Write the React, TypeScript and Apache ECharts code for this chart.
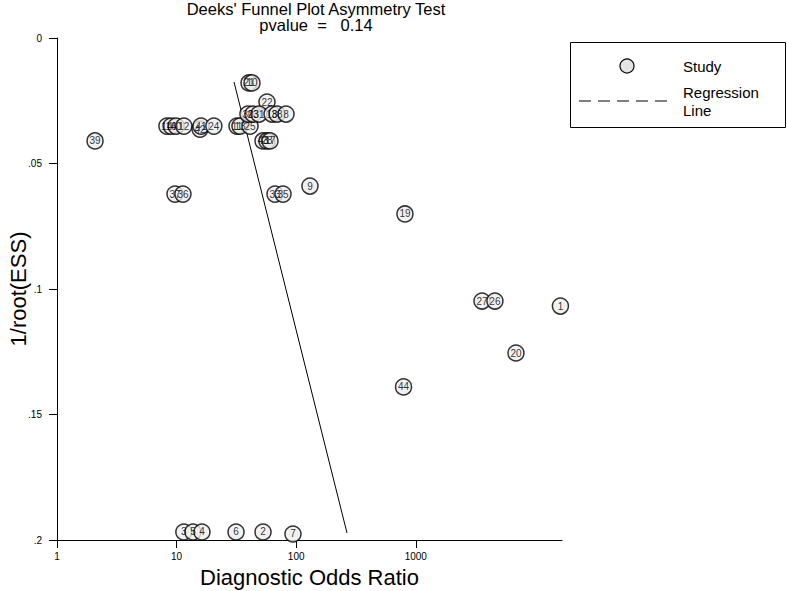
import React, { useEffect, useRef } from "react";
import * as echarts from "echarts";

// Study labels, diagnostic odds ratio (x, log scale), 1/root(ESS) (y)
const studyLabels = [
  "39", "14", "16", "40", "12", "42", "41", "24",
  "11", "13", "25",
  "21", "10", "22",
  "30", "23", "31", "18", "38", "8",
  "43", "28", "17",
  "37", "36", "33", "35", "9",
  "19", "27", "26", "1", "20", "44",
  "3", "5", "4", "6", "2", "7",
];
const oddsRatios = [
  2.08, 8.3, 9.0, 9.9, 11.5, 15.7, 16.0, 20.5,
  32.0, 33.9, 41.1,
  40.3, 42.7, 57.0,
  39.5, 43.5, 48.9, 62.8, 69.1, 82.2,
  52.8, 57.0, 60.4,
  9.7, 11.3, 66.5, 77.6, 130.4,
  812, 3580, 4590, 16200, 6880, 790,
  11.5, 13.7, 16.3, 31.4, 52.8, 94.0,
];
const invRootESS = [
  0.041, 0.0351, 0.0351, 0.0351, 0.0351, 0.0363, 0.0351, 0.0351,
  0.0351, 0.0351, 0.0351,
  0.0179, 0.0179, 0.0255,
  0.0303, 0.0303, 0.0303, 0.0303, 0.0303, 0.0303,
  0.041, 0.041, 0.041,
  0.0622, 0.0622, 0.0622, 0.0622, 0.059,
  0.0701, 0.1048, 0.1048, 0.1068, 0.1255, 0.139,
  0.1968, 0.1968, 0.1968, 0.1968, 0.1968, 0.1976,
];
// Regression line end points
const regressionX = [30.2, 266];
const regressionY = [0.0175, 0.1972];
// Axis ticks
const xTickValues = [1, 10, 100, 1000];
const xMaxOdds = 16700;
const yTickLabels = ["0", ".05", ".1", ".15", ".2"];

const FONT = "'Liberation Sans', Arial, Helvetica, sans-serif";

export default function App() {
  const ref = useRef<HTMLDivElement>(null);
  useEffect(() => {
    if (!ref.current) return;
    const chart = echarts.init(ref.current, null, { renderer: "svg" });
    const lg = (v: number) => Math.log10(v);
    const studyData = studyLabels.map((l, i) => ({
      name: l,
      value: [lg(oddsRatios[i]), invRootESS[i]],
    }));
    const regData = regressionX.map((x, i) => [lg(x), regressionY[i]]);
    const xTickPos = xTickValues.map(lg);
    chart.setOption({
      animation: false,
      textStyle: { fontFamily: FONT },
      title: {
        text: "Deeks' Funnel Plot Asymmetry Test\npvalue  =   0.14",
        left: 311,
        top: -4,
        textAlign: "center",
        textStyle: {
          fontFamily: FONT,
          fontSize: 16.5,
          fontWeight: "normal",
          color: "#000",
          lineHeight: 16,
        },
      },
      grid: {
        left: 57,
        top: 38,
        right: 225,
        bottom: 51,
        containLabel: false,
        outerBoundsMode: "none",
      },
      xAxis: {
        type: "value",
        min: 0,
        max: lg(xMaxOdds),
        interval: 1,
        name: "Diagnostic Odds Ratio",
        nameLocation: "middle",
        nameGap: 26,
        nameMoveOverlap: false,
        nameTextStyle: { fontFamily: FONT, fontSize: 22, color: "#000" },
        axisLine: { show: true, onZero: false, lineStyle: { color: "#000", width: 1 } },
        axisTick: {
          show: true,
          inside: false,
          length: 8,
          customValues: xTickPos,
          lineStyle: { color: "#000" },
        },
        splitLine: { show: false },
        axisLabel: {
          fontFamily: FONT,
          fontSize: 10,
          color: "#000",
          margin: 11,
          customValues: xTickPos,
          formatter: (v: number) => String(Math.round(Math.pow(10, v))),
        },
      },
      yAxis: {
        type: "value",
        inverse: true,
        min: 0,
        max: 0.2,
        interval: 0.05,
        name: "1/root(ESS)",
        nameLocation: "middle",
        nameGap: 28,
        nameMoveOverlap: false,
        nameTextStyle: { fontFamily: FONT, fontSize: 22, color: "#000" },
        axisLine: { show: true, onZero: false, lineStyle: { color: "#000", width: 1 } },
        axisTick: { show: true, inside: false, length: 8, lineStyle: { color: "#000" } },
        splitLine: { show: false },
        axisLabel: {
          fontFamily: FONT,
          fontSize: 10,
          color: "#000",
          margin: 15,
          formatter: (v: number) => yTickLabels[Math.round(v / 0.05)] ?? "",
        },
      },
      series: [
        {
          type: "line",
          name: "Regression Line",
          data: regData,
          symbol: "none",
          lineStyle: { color: "#000", width: 1 },
          silent: true,
          z: 2,
        },
        {
          type: "scatter",
          name: "Study",
          data: studyData,
          symbol: "circle",
          symbolSize: 16,
          clip: false,
          itemStyle: { color: "#ededed", borderColor: "#000", borderWidth: 1.5 },
          label: {
            show: true,
            position: "inside",
            formatter: "{b}",
            fontFamily: FONT,
            fontSize: 10,
            color: "#000",
          },
          z: 3,
        },
      ],
      graphic: [
        {
          type: "rect",
          shape: { x: 570.5, y: 42.5, width: 215, height: 85 },
          style: { fill: "#fff", stroke: "#000", lineWidth: 1 },
        },
        {
          type: "circle",
          shape: { cx: 627, cy: 66, r: 7 },
          style: { fill: "#e4e4e4", stroke: "#000", lineWidth: 1.2 },
        },
        {
          type: "text",
          x: 683,
          y: 66,
          style: { text: "Study", fontFamily: FONT, fontSize: 15, fill: "#000", verticalAlign: "middle" },
        },
        {
          type: "line",
          shape: { x1: 579, y1: 101, x2: 668, y2: 101 },
          style: { stroke: "#000", lineWidth: 1, lineDash: [12, 7] },
        },
        {
          type: "text",
          x: 683,
          y: 92,
          style: { text: "Regression", fontFamily: FONT, fontSize: 15, fill: "#000", verticalAlign: "middle" },
        },
        {
          type: "text",
          x: 683,
          y: 110,
          style: { text: "Line", fontFamily: FONT, fontSize: 15, fill: "#000", verticalAlign: "middle" },
        },
      ],
    });
    return () => chart.dispose();
  }, []);
  return (
    <div
      ref={ref}
      style={{ position: "absolute", left: 0, top: 0, width: 787, height: 591 }}
    />
  );
}
